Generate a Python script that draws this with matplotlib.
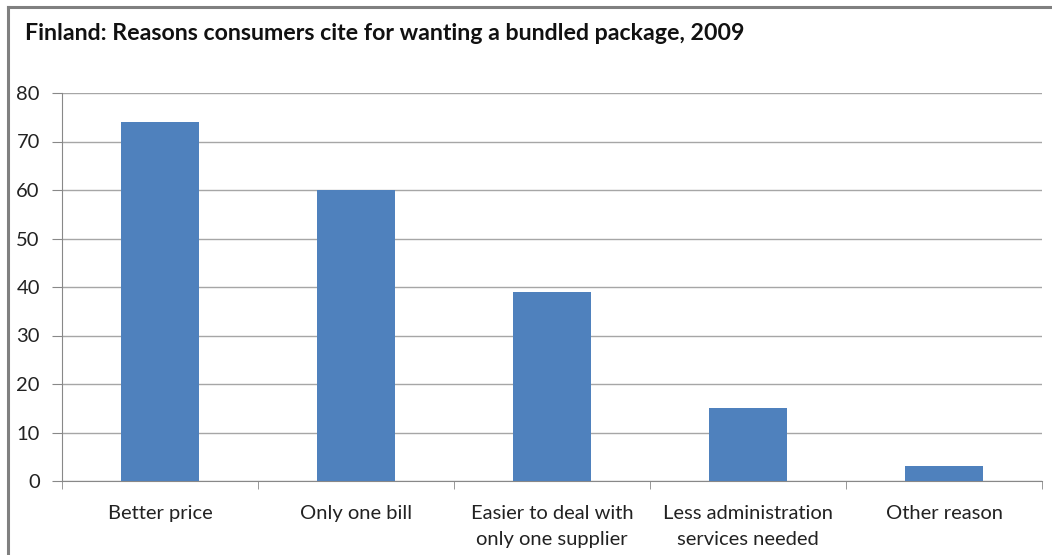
import matplotlib.pyplot as plt
from matplotlib.lines import Line2D

reasons = ["Better price", "Only one bill", "Easier to deal with\nonly one supplier",
           "Less administration\nservices needed", "Other reason"]
shares = [74, 60, 39, 15, 3]
y_ticks = [0, 10, 20, 30, 40, 50, 60, 70, 80]

plt.rcParams['font.family'] = ['Lato', 'DejaVu Sans']

fig = plt.figure(figsize=(10.52, 5.55), dpi=100)
ax = fig.add_axes([62 / 1052, 74 / 555, 980 / 1052, 388 / 555])

x = range(len(reasons))
ax.bar(x, shares, width=0.4, color="#4F81BD", zorder=3)

ax.set_xlim(-0.5, len(reasons) - 0.5)
ax.set_ylim(0, 80)
ax.set_yticks(y_ticks)
ax.set_yticklabels([str(v) for v in y_ticks], fontsize=14.5, color="#222222")
ax.yaxis.grid(True, color="#a6a6a6", linewidth=1, zorder=0)

# category labels centred under bars, ticks on category boundaries
ax.set_xticks(list(x))
ax.set_xticklabels(reasons, fontsize=14.5, color="#222222", linespacing=1.65)
ax.tick_params(axis="x", length=0, pad=17)
ax.set_xticks([i - 0.5 for i in range(len(reasons) + 1)], minor=True)
ax.tick_params(axis="x", which="minor", length=6, color="#888888")
ax.tick_params(axis="y", length=7, color="#888888", pad=9)

for side in ["top", "right"]:
    ax.spines[side].set_visible(False)
for side in ["left", "bottom"]:
    ax.spines[side].set_color("#888888")

fig.text(25 / 1052, 1 - 33 / 555, "Finland: Reasons consumers cite for wanting a bundled package, 2009",
         fontsize=16.7, fontweight="bold", va="center", ha="left", color="#111111")

# chart frame
fig.add_artist(Line2D([8 / 1052, 8 / 1052], [0, 1 - 7 / 555], color="#808080", linewidth=2.2))
fig.add_artist(Line2D([8 / 1052, 1], [1 - 7 / 555, 1 - 7 / 555], color="#808080", linewidth=2.2))

fig.savefig("out.png", dpi=100)
